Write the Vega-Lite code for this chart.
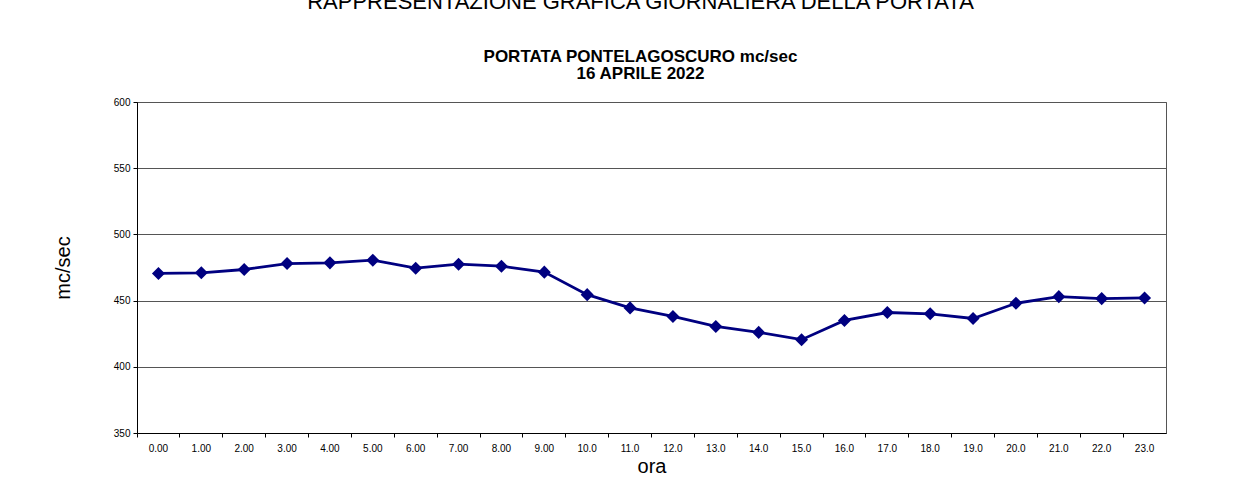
{
  "$schema": "https://vega.github.io/schema/vega-lite/v6.json",
  "width": 1029,
  "height": 331,
  "autosize": {"type": "none"},
  "padding": {"left": 137, "top": 102, "right": 67, "bottom": 68},
  "background": "white",
  "title": {
    "text": "RAPPRESENTAZIONE GRAFICA GIORNALIERA DELLA PORTATA",
    "subtitle": ["PORTATA PONTELAGOSCURO mc/sec", "16 APRILE 2022"],
    "font": "Liberation Sans",
    "fontSize": 22,
    "fontWeight": "normal",
    "color": "black",
    "subtitleFont": "Liberation Sans",
    "subtitleFontSize": 17,
    "subtitleFontWeight": "bold",
    "subtitleColor": "black",
    "subtitleLineHeight": 17.5,
    "subtitlePadding": 35,
    "offset": 14,
    "anchor": "middle",
    "dx": -11
  },
  "data": {
    "values": [
      {"ora": "0.00", "portata": 470.5},
      {"ora": "1.00", "portata": 471},
      {"ora": "2.00", "portata": 473.5},
      {"ora": "3.00", "portata": 478},
      {"ora": "4.00", "portata": 478.5},
      {"ora": "5.00", "portata": 480.5},
      {"ora": "6.00", "portata": 474.5},
      {"ora": "7.00", "portata": 477.5},
      {"ora": "8.00", "portata": 476},
      {"ora": "9.00", "portata": 471.5},
      {"ora": "10.0", "portata": 454.5},
      {"ora": "11.0", "portata": 444.5},
      {"ora": "12.0", "portata": 438},
      {"ora": "13.0", "portata": 430.5},
      {"ora": "14.0", "portata": 426},
      {"ora": "15.0", "portata": 420.5},
      {"ora": "16.0", "portata": 435},
      {"ora": "17.0", "portata": 441},
      {"ora": "18.0", "portata": 440},
      {"ora": "19.0", "portata": 436.5},
      {"ora": "20.0", "portata": 448},
      {"ora": "21.0", "portata": 453},
      {"ora": "22.0", "portata": 451.5},
      {"ora": "23.0", "portata": 452}
    ]
  },
  "mark": {
    "type": "line",
    "color": "#000080",
    "strokeWidth": 2.8,
    "point": {"shape": "diamond", "size": 170, "filled": true, "color": "#000080", "opacity": 1}
  },
  "encoding": {
    "x": {
      "field": "ora",
      "type": "ordinal",
      "sort": null,
      "scale": {"type": "band", "paddingInner": 0, "paddingOuter": 0},
      "axis": {
        "title": "ora",
        "titleFont": "Liberation Sans",
        "titleFontSize": 20,
        "titleFontWeight": "normal",
        "titleColor": "black",
        "titlePadding": 3,
        "labelAngle": 0,
        "labelFont": "Liberation Sans",
        "labelFontSize": 10,
        "labelColor": "black",
        "labelPadding": 6,
        "domainColor": "black",
        "tickColor": "black",
        "tickSize": 4,
        "bandPosition": 0,
        "grid": false
      }
    },
    "y": {
      "field": "portata",
      "type": "quantitative",
      "scale": {"domain": [350, 600], "nice": false, "zero": false},
      "axis": {
        "values": [350, 400, 450, 500, 550, 600],
        "title": "mc/sec",
        "titleFont": "Liberation Sans",
        "titleFontSize": 20,
        "titleFontWeight": "normal",
        "titleColor": "black",
        "titlePadding": 40,
        "labelFont": "Liberation Sans",
        "labelFontSize": 10,
        "labelColor": "black",
        "labelPadding": 3,
        "domainColor": "black",
        "tickColor": "black",
        "tickSize": 4,
        "grid": true,
        "gridColor": "#555555",
        "gridOpacity": 1
      }
    }
  },
  "config": {
    "view": {"stroke": "#555555", "strokeWidth": 1}
  }
}
